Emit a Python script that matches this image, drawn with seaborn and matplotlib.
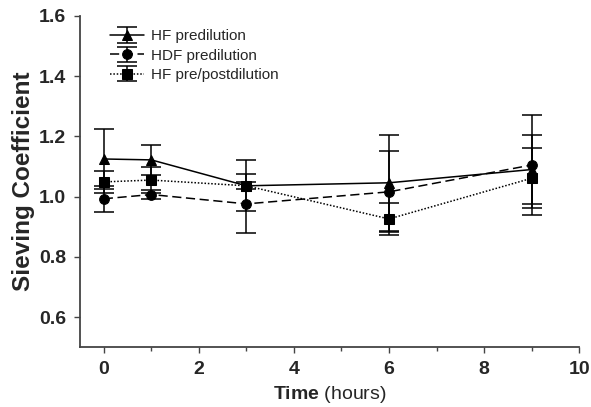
import numpy as np
import pandas as pd
import matplotlib
matplotlib.use("Agg")
import matplotlib.pyplot as plt
import seaborn as sns
from matplotlib.ticker import MultipleLocator
from matplotlib.legend_handler import HandlerTuple

# Data
time_h = [0, 1, 3, 6, 9]
series = ["HF predilution", "HDF predilution", "HF pre/postdilution"]
hf_pre = [1.125, 1.122, 1.036, 1.046, 1.090]
hf_pre_err = [0.100, 0.050, 0.085, 0.160, 0.115]
hdf_pre = [0.993, 1.007, 0.976, 1.016, 1.105]
hdf_pre_err = [0.043, 0.015, 0.098, 0.134, 0.165]
hf_prepost = [1.049, 1.055, 1.036, 0.926, 1.061]
hf_prepost_err = [0.036, 0.043, 0.012, 0.053, 0.100]

means = [hf_pre, hdf_pre, hf_prepost]
errs = [hf_pre_err, hdf_pre_err, hf_prepost_err]

df = pd.DataFrame({
    "time": time_h * 3,
    "sc": hf_pre + hdf_pre + hf_prepost,
    "group": [s for s in series for _ in time_h],
})

sns.set_style("ticks")
plt.rcParams["font.family"] = ["Liberation Sans", "DejaVu Sans"]
plt.rcParams["mathtext.fontset"] = "custom"
plt.rcParams["mathtext.rm"] = "Liberation Sans"
plt.rcParams["mathtext.bf"] = "Liberation Sans:bold"

markers = {"HF predilution": "^", "HDF predilution": "o", "HF pre/postdilution": "s"}
dashes = {"HF predilution": "", "HDF predilution": (6, 3), "HF pre/postdilution": (1, 1.2)}

fig, ax = plt.subplots(figsize=(5.91, 4.07), dpi=100)
fig.subplots_adjust(left=0.1354, right=0.980, top=0.961, bottom=0.1467)

sns.lineplot(data=df, x="time", y="sc", style="group", markers=markers,
             dashes=dashes, color="black", markersize=7, linewidth=1.1,
             markeredgecolor="black", legend=False, ax=ax)
data_lines = list(ax.lines[:3])

# error bars
bars = []
for m, e in zip(means, errs):
    c = ax.errorbar(time_h, m, yerr=e, fmt="none", ecolor="black",
                    elinewidth=1.1, capsize=7, capthick=1.1)
    bars.append(c)

handles = [(b, l) for b, l in zip(bars, data_lines)]
ax.legend(handles=handles, labels=series, loc="upper left",
          bbox_to_anchor=(0.048, 0.978), frameon=False, fontsize=11,
          handlelength=2.2, handletextpad=0.5, labelspacing=0.35,
          borderaxespad=0, handler_map={tuple: HandlerTuple(ndivide=1)})

ax.set_xlim(-0.5, 10)
ax.set_ylim(0.5, 1.6)
ax.set_xticks([0, 2, 4, 6, 8, 10])
ax.xaxis.set_minor_locator(MultipleLocator(1))
ax.set_yticks([0.6, 0.8, 1.0, 1.2, 1.4, 1.6])
ax.yaxis.set_major_formatter(matplotlib.ticker.FormatStrFormatter("%.1f"))

for lab in ax.get_xticklabels() + ax.get_yticklabels():
    lab.set_fontweight("bold")
    lab.set_fontsize(14)
ax.tick_params(axis="both", which="major", length=4, width=1, color="#444444", pad=6)
ax.tick_params(axis="x", which="minor", length=3, width=1, color="#444444")

ax.set_xlabel(r"$\bf{Time}$ (hours)", fontsize=14, labelpad=4)
ax.set_ylabel("Sieving Coefficient", fontsize=17.5, fontweight="bold", labelpad=3)

sns.despine(ax=ax)
for sp in ["left", "bottom"]:
    ax.spines[sp].set_linewidth(1.3)
    ax.spines[sp].set_color("#444444")

fig.savefig("out.png", dpi=100)
